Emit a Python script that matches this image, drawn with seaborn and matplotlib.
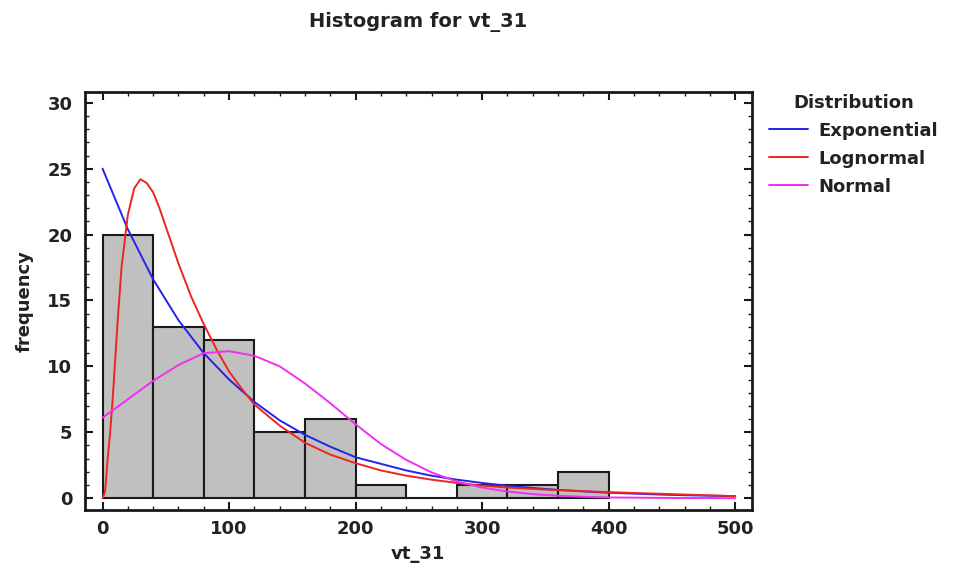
import numpy as np
import pandas as pd
import matplotlib
matplotlib.use("Agg")
import matplotlib.pyplot as plt
from matplotlib.ticker import MultipleLocator
import seaborn as sns

# ---- data ----
bin_edges = [0, 40, 80, 120, 160, 200, 240, 280, 320, 360, 400]
bin_counts = [20, 13, 12, 5, 6, 1, 0, 1, 1, 2]

exp_x = [0, 20, 40, 60, 80, 100, 120, 140, 160, 180, 200, 220, 240, 260, 280,
         300, 320, 340, 360, 380, 400, 420, 440, 460, 480, 500]
exp_y = [25, 20.4, 16.6, 13.5, 11.0, 9.0, 7.3, 5.9, 4.8, 3.9, 3.1, 2.6, 2.1, 1.7, 1.4,
         1.15, 0.94, 0.77, 0.62, 0.51, 0.41, 0.34, 0.27, 0.22, 0.18, 0.15]

logn_x = [0, 2, 4, 6, 8, 10, 12, 15, 20, 25, 30, 35, 40, 45, 50, 60, 70, 80, 90,
          100, 110, 120, 140, 160, 180, 200, 220, 240, 260, 280, 300, 320, 350,
          400, 450, 500]
logn_y = [0, 0.5, 2.9, 5.0, 7.5, 10.5, 13.5, 17.5, 21.5, 23.5, 24.2, 23.9, 23.2, 22.0,
          20.6, 17.8, 15.3, 13.2, 11.3, 9.6, 8.3, 7.1, 5.5, 4.2, 3.3, 2.65, 2.1, 1.7,
          1.4, 1.15, 0.95, 0.8, 0.65, 0.45, 0.3, 0.15]

norm_x = [0, 20, 40, 60, 80, 100, 120, 140, 160, 180, 200, 220, 240, 260, 280,
          300, 320, 340, 360, 380, 400, 450, 500]
norm_y = [6.1, 7.5, 8.9, 10.1, 11.0, 11.15, 10.8, 10.0, 8.7, 7.2, 5.6, 4.1, 2.9,
          1.95, 1.25, 0.8, 0.5, 0.3, 0.18, 0.1, 0.05, 0.01, 0.0]

title = "Histogram for vt_31"
x_label = "vt_31"
y_label = "frequency"
legend_title = "Distribution"
series_names = ["Exponential", "Lognormal", "Normal"]
series_colors = ["#2424e8", "#ee2424", "#f030f0"]

# ---- plot ----
sns.set_theme(style="white")
plt.rcParams["font.family"] = ["DejaVu Sans"]

fig = plt.figure(figsize=(9.75, 5.73), dpi=100)
ax = fig.add_axes([0.087, 0.110, 0.684, 0.729])

centers = [(a + b) / 2 for a, b in zip(bin_edges[:-1], bin_edges[1:])]
hist_df = pd.DataFrame({"x": centers, "w": bin_counts})
sns.histplot(data=hist_df, x="x", weights="w", bins=bin_edges, ax=ax,
             color="#c0c0c0", alpha=1.0, edgecolor="#1a1a1a", linewidth=1.5)

curves = [(exp_x, exp_y), (logn_x, logn_y), (norm_x, norm_y)]
for (cx, cy), name, col in zip(curves, series_names, series_colors):
    df = pd.DataFrame({"x": cx, "y": cy})
    sns.lineplot(data=df, x="x", y="y", ax=ax, color=col, linewidth=1.4,
                 label=name, sort=False)

ax.set_xlim(-14, 513)
ax.set_ylim(-0.9, 30.8)
ax.xaxis.set_major_locator(MultipleLocator(100))
ax.xaxis.set_minor_locator(MultipleLocator(20))
ax.yaxis.set_major_locator(MultipleLocator(5))
ax.yaxis.set_minor_locator(MultipleLocator(1))
ax.tick_params(which="both", direction="in", top=True, right=True,
               bottom=True, left=True, color="#1a1a1a")
ax.tick_params(which="major", length=6, width=1.5, labelsize=13)
ax.tick_params(axis="y", which="major", pad=9)
ax.tick_params(axis="x", which="major", pad=7)
ax.tick_params(which="minor", length=3, width=1.0)
for lab in ax.get_xticklabels() + ax.get_yticklabels():
    lab.set_fontweight("bold")
    lab.set_color("#222222")
for sp in ax.spines.values():
    sp.set_visible(True)
    sp.set_color("#1a1a1a")
    sp.set_linewidth(2)

ax.set_xlabel(x_label, fontsize=13, fontweight="bold", color="#222222", labelpad=5)
ax.set_ylabel(y_label, fontsize=13, fontweight="bold", color="#222222", labelpad=10)

fig.text(0.429, 0.961, title, ha="center", va="center", fontsize=14,
         fontweight="bold", color="#222222")

leg = ax.legend(title=legend_title, loc="upper left", bbox_to_anchor=(1.02, 1.005),
                frameon=False, fontsize=13, title_fontsize=13,
                handlelength=2.2, handletextpad=0.55, labelspacing=0.55,
                borderaxespad=0.0, borderpad=0.2)
leg.get_title().set_fontweight("bold")
leg.get_title().set_color("#222222")
for t in leg.get_texts():
    t.set_fontweight("bold")
    t.set_color("#222222")

fig.savefig("out.png", dpi=100)
